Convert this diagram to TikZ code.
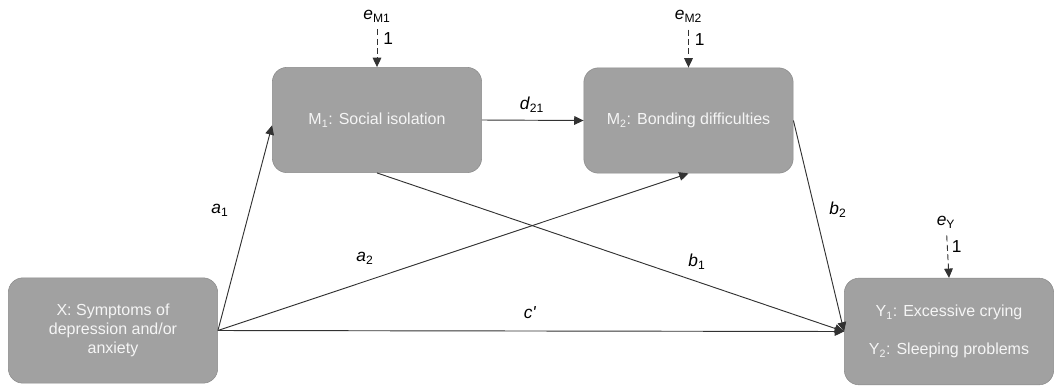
\documentclass[tikz,border=0pt]{standalone}
\usepackage{fontspec}
\setmainfont{Liberation Sans}
\usetikzlibrary{arrows.meta}
\definecolor{boxgray}{RGB}{161,161,161}
\definecolor{boxline}{RGB}{138,138,138}
\definecolor{boxtext}{RGB}{245,245,245}
\definecolor{linegray}{RGB}{50,50,50}
\begin{document}
\begin{tikzpicture}[x=0.75pt,y=-0.75pt,
		box/.style={draw=boxline,fill=boxgray,rounded corners=11pt,minimum width=157pt,minimum height=79pt,text=boxtext,align=center,font=\fontsize{12}{14.5}\selectfont},
		arr/.style={draw=linegray,line width=0.7pt,-{Triangle[length=7pt,width=6.5pt]}},
		err/.style={arr,dash pattern=on 4.5pt off 2.5pt,shorten <=2pt},
		lab/.style={font=\fontsize{13}{15}\selectfont}]
		\useasboundingbox (0,0) rectangle (1054,387);
		% variables
		\node[box] (x) at (113,330.5) {X: Symptoms of\\depression and/or\\anxiety};
		\node[box] (m1) at (377,120) {M\textsubscript{1}: Social isolation};
		\node[box] (m2) at (688.5,120.5) {M\textsubscript{2}: Bonding difficulties};
		\node[box,minimum height=80pt] (y) at (949,331.5) {Y\textsubscript{1}: Excessive crying\\[14pt]Y\textsubscript{2}: Sleeping problems};
		% error terms
		\node[lab] (em1) at (377,16) {\textit{e}\textsubscript{M1}};
		\node[lab] (em2) at (688.5,16) {\textit{e}\textsubscript{M2}};
		\node[lab] (ey) at (946,222) {\textit{e}\textsubscript{Y}};
		\draw[err] (em1) -- node[lab,right,pos=0.3,inner sep=4.5pt] (w1) {1} (m1.north);
		\draw[err] (em2) -- node[lab,right,pos=0.3,inner sep=4.5pt] (w2) {1} (m2.north);
		\draw[err] (ey) -- node[lab,right,pos=0.3,inner sep=3pt] (wy) {1} (y.north);
		% paths
		\draw[arr] (x.east) -- ([yshift=-4pt]m1.west);
		\draw[arr] (x.east) -- (m2.south);
		\draw[arr] (x.east) -- (y.west);
		\draw[arr] (m1.south) -- (y.west);
		\draw[arr] (m2.east) -- (y.west);
		\draw[arr] (m1.east) -- (m2.west);
		% coefficients
		\node[lab] (la1) at (220,210) {\textit{a}\textsubscript{1}};
		\node[lab] (la2) at (365,258) {\textit{a}\textsubscript{2}};
		\node[lab] (lc) at (530,313) {\textit{c\textquotesingle}};
		\node[lab] (lb1) at (697,262) {\textit{b}\textsubscript{1}};
		\node[lab] (lb2) at (838,210) {\textit{b}\textsubscript{2}};
		\node[lab] (ld) at (532,105) {\textit{d}\textsubscript{21}};
	\end{tikzpicture}
\end{document}
